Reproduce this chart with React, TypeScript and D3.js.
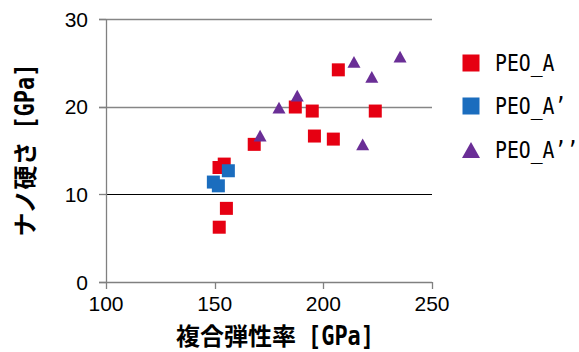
import React from "react";
import * as d3 from "d3";

const peoAX = [168.2, 154.4, 152.0, 155.4, 152.1, 206.9, 187.1, 194.9, 223.9, 195.9, 204.6];
const peoAY = [15.7, 13.45, 13.06, 8.4, 6.25, 24.2, 19.96, 19.5, 19.5, 16.65, 16.3];
const peoA1X = [149.4, 151.7, 156.3];
const peoA1Y = [11.4, 10.97, 12.69];
const peoA2X = [170.9, 179.6, 188.0, 214.1, 222.3, 235.3, 218.1];
const peoA2Y = [16.7, 19.9, 21.26, 25.1, 23.4, 25.7, 15.7];
const xTicks = [100, 150, 200, 250];
const yTicks = [0, 10, 20, 30];
const seriesNames = ["PEO_A", "PEO_A\u2019", "PEO_A\u2019\u2019"];
const xTitleMain = "複合弾性率";
const yTitleMain = "ナノ硬さ";
const unitLabel = "[GPa]";

const RED = "#E60012";
const BLUE = "#1B6DBE";
const PURPLE = "#6A2E96";

const W = 579;
const H = 352;

export default function App() {
  const x = d3.scaleLinear().domain([100, 250]).range([106, 432]);
  const y = d3.scaleLinear().domain([0, 30]).range([282, 19]);
  const sq = (cx: number, cy: number, s: number, fill: string, key: string) => (
    <rect key={key} x={cx - s / 2} y={cy - s / 2} width={s} height={s} fill={fill} />
  );
  const tri = (cx: number, cy: number, s: number, fill: string, key: string) => {
    const h = s * 0.9;
    return (
      <path
        key={key}
        d={`M${cx},${cy - h / 2}L${cx + s / 2},${cy + h / 2}L${cx - s / 2},${cy + h / 2}Z`}
        fill={fill}
      />
    );
  };
  const tickFont = "'Liberation Sans', Arial, sans-serif";
  const legFont = "'DejaVu Sans Mono', monospace";
  const titleFont = "'Noto Sans CJK JP', sans-serif";
  const legendY = [63, 106, 150];

  const titleSpans = (main: string) => (
    <>
      <tspan fontFamily={titleFont} fontWeight="bold" fontSize={24}>
        {main}
      </tspan>
      <tspan
        fontFamily={legFont}
        fontWeight="bold"
        fontSize={27}
        dx={12}
        textLength={66}
        lengthAdjust="spacingAndGlyphs"
      >
        {unitLabel}
      </tspan>
    </>
  );

  return (
    <svg width={W} height={H} style={{ position: "absolute", left: 0, top: 0, background: "#fff" }}>
      {yTicks.filter((t) => t > 0).map((t) => (
        <line
          key={"g" + t}
          x1={99}
          x2={432}
          y1={Math.round(y(t)) + 0.5}
          y2={Math.round(y(t)) + 0.5}
          stroke={t === 10 ? "#000" : "#868686"}
          strokeWidth={t === 10 ? 1 : 1.6}
        />
      ))}
      <line x1={106.5} x2={106.5} y1={y(30)} y2={282} stroke="#808080" strokeWidth={1.3} />
      <line x1={99} x2={432} y1={282.5} y2={282.5} stroke="#808080" strokeWidth={1.3} />
      {yTicks.map((t) => (
        <line key={"yt" + t} x1={99} x2={106} y1={Math.round(y(t)) + 0.5} y2={Math.round(y(t)) + 0.5} stroke="#808080" strokeWidth={1.3} />
      ))}
      {xTicks.map((t) => (
        <line key={"xt" + t} x1={Math.round(x(t)) + 0.5} x2={Math.round(x(t)) + 0.5} y1={282} y2={289} stroke="#808080" strokeWidth={1.3} />
      ))}
      {yTicks.map((t) => (
        <text key={"yl" + t} x={88} y={y(t)} dy="0.36em" textAnchor="end" fontFamily={tickFont} fontSize={21} fill="#000">
          {t}
        </text>
      ))}
      {xTicks.map((t) => (
        <text key={"xl" + t} x={x(t)} y={311} textAnchor="middle" fontFamily={tickFont} fontSize={21} fill="#000">
          {t}
        </text>
      ))}
      {peoAX.map((v, i) => sq(x(v), y(peoAY[i]), 13, RED, "a" + i))}
      {peoA1X.map((v, i) => sq(x(v), y(peoA1Y[i]), 13, BLUE, "b" + i))}
      {peoA2X.map((v, i) => tri(x(v), y(peoA2Y[i]), 13, PURPLE, "c" + i))}
      {sq(471, legendY[0], 17, RED, "l0")}
      {sq(471, legendY[1], 17, BLUE, "l1")}
      {tri(471, legendY[2], 18, PURPLE, "l2")}
      {seriesNames.map((n, i) => (
        <g key={"lt" + i} transform={`translate(495,${legendY[i] + 8}) scale(0.86,1)`}>
          <text x={0} y={0} fontFamily={legFont} fontSize={23} fill="#000">
            {n}
          </text>
        </g>
      ))}
      <text x={275} y={345} textAnchor="middle" fill="#000">
        {titleSpans(xTitleMain)}
      </text>
      <text transform={`translate(34,150) rotate(-90)`} textAnchor="middle" fill="#000">
        {titleSpans(yTitleMain)}
      </text>
    </svg>
  );
}
